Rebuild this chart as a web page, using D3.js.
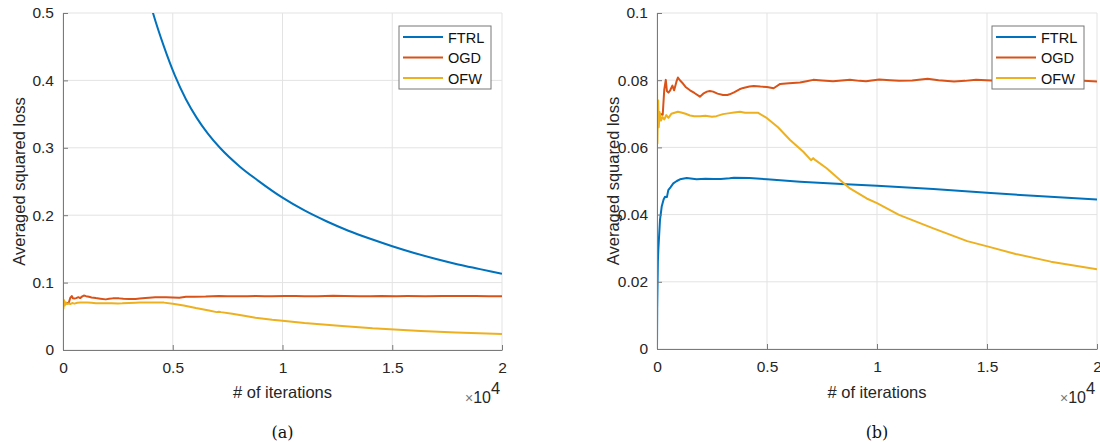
<!DOCTYPE html>
<html>
<head>
<meta charset="utf-8">
<script src="https://cdn.jsdelivr.net/npm/d3@7"></script>
<style>
  body { margin: 0; background: #fff; }
  svg { display: block; font-family: "Liberation Sans", Arial, sans-serif; }
  .tick text { fill: #262626; font-size: 15.5px; }
  .axis-title { fill: #262626; font-size: 16.5px; }
  .caption { fill: #111; font-family: "DejaVu Serif", "Liberation Serif", serif; font-size: 16px; }
</style>
</head>
<body>
<svg id="chart" width="1100" height="442"></svg>
<script>
// Series names and colours (MATLAB default order)
const seriesNames = ['FTRL', 'OGD', 'OFW'];
const seriesColors = ['#0072BD', '#D95319', '#EDB120'];

// x in iterations, y = averaged squared loss
// FTRL in panel (a): starts far above the axis, clipped at 0.5
const ftrlA = [[3800, 0.535], [4100, 0.500], [4600, 0.450], [5100, 0.407], [5600, 0.372],
  [6100, 0.344], [6600, 0.321], [7150, 0.300], [8060, 0.272], [8900, 0.251], [10000, 0.226],
  [11000, 0.207], [12000, 0.191], [13000, 0.177], [14000, 0.165], [15000, 0.154],
  [16000, 0.144], [17000, 0.135], [18000, 0.127], [19000, 0.120], [20000, 0.113]];

// FTRL in panel (b)
const ftrlB = [[0, 0.000], [10, 0.012], [40, 0.026], [60, 0.0295], [136, 0.0384], [214, 0.0424],
  [300, 0.0445], [364, 0.0453], [450, 0.0452], [514, 0.0473], [620, 0.0482], [741, 0.0493],
  [900, 0.0500], [1045, 0.0505], [1350, 0.0509], [1800, 0.0505], [2200, 0.0507], [2600, 0.0506],
  [2900, 0.0506], [3300, 0.0508], [3500, 0.0510], [4200, 0.0509], [5000, 0.0505], [6500, 0.0498],
  [8600, 0.0490], [10000, 0.0486], [12560, 0.0476], [15000, 0.0465], [17100, 0.0456],
  [20000, 0.0445]];

// OGD and OFW are the same runs in both panels
const ogd = [[0, 0.0702], [260, 0.0697], [330, 0.0772], [400, 0.0801], [450, 0.0768],
  [520, 0.0763], [600, 0.0770], [700, 0.0784], [780, 0.0770], [880, 0.0795], [950, 0.0808],
  [1050, 0.0799], [1180, 0.0790], [1300, 0.0780], [1500, 0.0770], [1700, 0.0762],
  [1950, 0.0751], [2100, 0.0760], [2270, 0.0766], [2400, 0.0768], [2550, 0.0766],
  [2750, 0.0760], [3000, 0.0756], [3200, 0.0756], [3300, 0.0758], [3500, 0.0764],
  [3750, 0.0773], [3920, 0.0777], [4200, 0.0781], [4400, 0.0783], [4700, 0.0781],
  [5000, 0.0780], [5300, 0.0776], [5600, 0.0789], [6000, 0.0791], [6500, 0.0793],
  [6800, 0.0797], [7100, 0.0801], [7500, 0.0799], [8000, 0.0797], [8400, 0.0799],
  [8770, 0.0801], [9200, 0.0798], [9500, 0.0797], [10100, 0.0802], [10600, 0.0800],
  [11000, 0.0798], [11600, 0.0799], [12300, 0.0804], [12800, 0.0800], [13500, 0.0796],
  [14000, 0.0798], [14500, 0.0801], [15200, 0.0799], [15700, 0.0800], [16500, 0.0799],
  [17300, 0.0801], [18000, 0.0800], [18800, 0.0800], [19400, 0.0798], [20000, 0.0796]];

const ofw = [[0, 0.0800], [20, 0.0612], [50, 0.0740], [80, 0.0660], [120, 0.0705],
  [180, 0.0680], [250, 0.0690], [330, 0.0683], [420, 0.0696], [520, 0.0688], [650, 0.0700],
  [800, 0.0703], [950, 0.0706], [1100, 0.0704], [1300, 0.0700], [1500, 0.0695],
  [1700, 0.0693], [1950, 0.0693], [2200, 0.0694], [2500, 0.0691], [2700, 0.0693],
  [3000, 0.0699], [3300, 0.0702], [3500, 0.0704], [3770, 0.0706], [4000, 0.0703],
  [4300, 0.0703], [4600, 0.0703], [5000, 0.0687], [5500, 0.0660], [6050, 0.0622],
  [6650, 0.0587], [7000, 0.0562], [7100, 0.0568], [7200, 0.0562], [7710, 0.0538],
  [8320, 0.0503], [8770, 0.0478], [9530, 0.0448], [10000, 0.0434], [11000, 0.0399],
  [12560, 0.0359], [14100, 0.0321], [15100, 0.0304], [16300, 0.0283], [17900, 0.0260],
  [20000, 0.0237]];

// Axis ticks
const xTicks = [0, 5000, 10000, 15000, 20000];
const yTicksA = [0, 0.1, 0.2, 0.3, 0.4, 0.5];
const yTicksB = [0, 0.02, 0.04, 0.06, 0.08, 0.1];

const svg = d3.select('#chart');

/**
 * Draw one MATLAB-style panel: grid, axes, three lines, legend, labels
 */
function drawPanel(p) {
  const x = d3.scaleLinear().domain([0, 20000]).range([p.left, p.right]);
  const y = d3.scaleLinear().domain(p.yDomain).range([p.bottom, p.top]);
  const g = svg.append('g');

  // grid
  g.append('g').selectAll('line.gx').data(xTicks).join('line')
    .attr('x1', d => x(d)).attr('x2', d => x(d))
    .attr('y1', p.top).attr('y2', p.bottom)
    .attr('stroke', '#e3e3e3').attr('stroke-width', 1);
  g.append('g').selectAll('line.gy').data(p.yTicks).join('line')
    .attr('x1', p.left).attr('x2', p.right)
    .attr('y1', d => y(d)).attr('y2', d => y(d))
    .attr('stroke', '#e3e3e3').attr('stroke-width', 1);

  // lines, clipped to the axes box
  const clipId = 'clip-' + p.id;
  svg.append('clipPath').attr('id', clipId).append('rect')
    .attr('x', p.left).attr('y', p.top)
    .attr('width', p.right - p.left).attr('height', p.bottom - p.top);

  const lineGen = d3.line().x(d => x(d[0])).y(d => y(d[1]));
  const smoothGen = d3.line().x(d => x(d[0])).y(d => y(d[1])).curve(d3.curveMonotoneX);
  const lines = g.append('g').attr('clip-path', `url(#${clipId})`);
  p.series.forEach((s, i) => {
    lines.append('path')
      .attr('d', (s === ftrlA ? smoothGen : lineGen)(s))
      .attr('fill', 'none')
      .attr('stroke', seriesColors[i])
      .attr('stroke-width', 2)
      .attr('stroke-linejoin', 'round');
  });

  // axes
  const xAxis = d3.axisBottom(x).tickValues(xTicks)
    .tickFormat(d => d3.format('~g')(d / 1e4)).tickSizeInner(-5).tickSizeOuter(0).tickPadding(12);
  const yAxis = d3.axisLeft(y).tickValues(p.yTicks)
    .tickFormat(d => d3.format('~g')(+d.toFixed(3))).tickSizeInner(-5).tickSizeOuter(0).tickPadding(9);

  const xg = g.append('g').attr('transform', `translate(0,${p.bottom})`).call(xAxis);
  const yg = g.append('g').attr('transform', `translate(${p.left},0)`).call(yAxis);
  [xg, yg].forEach(a => {
    a.select('.domain').attr('stroke', '#7a7a7a');
    a.selectAll('.tick line').attr('stroke', '#7a7a7a');
    a.attr('font-family', null).attr('font-size', null);
  });

  // axis titles
  g.append('text').attr('class', 'axis-title')
    .attr('x', (p.left + p.right) / 2).attr('y', 398)
    .attr('text-anchor', 'middle').text('# of iterations');
  g.append('text').attr('class', 'axis-title')
    .attr('transform', `translate(${p.left - 38},${(p.top + p.bottom) / 2}) rotate(-90)`)
    .attr('text-anchor', 'middle').text('Averaged squared loss');

  // x10^4 exponent label
  const ex = g.append('text').attr('class', 'axis-title')
    .attr('x', p.right - 11).attr('y', 403).attr('text-anchor', 'end');
  ex.append('tspan').attr('fill', '#777').attr('font-size', '14px').text('\u00d7');
  ex.append('tspan').attr('font-size', '16px').text('10');
  g.append('text').attr('class', 'axis-title')
    .attr('x', p.right - 11).attr('y', 394).attr('font-size', '11.5px').text('4');

  // legend
  const lg = g.append('g').attr('transform', `translate(${p.legendX},26)`);
  lg.append('rect').attr('width', 92).attr('height', 63)
    .attr('fill', '#fff').attr('stroke', '#777').attr('stroke-width', 1);
  seriesNames.forEach((name, i) => {
    const ry = 11 + i * 20.5;
    lg.append('line').attr('x1', 4).attr('x2', 44).attr('y1', ry).attr('y2', ry)
      .attr('stroke', seriesColors[i]).attr('stroke-width', 2);
    lg.append('text').attr('x', 49).attr('y', ry + 5.5)
      .attr('font-size', '14.5px').attr('fill', '#111').text(name);
  });

  // caption
  g.append('text').attr('class', 'caption')
    .attr('x', (p.left + p.right) / 2).attr('y', 438)
    .attr('text-anchor', 'middle').text(p.caption);
}

drawPanel({
  id: 'a', left: 63, right: 502, top: 13, bottom: 350,
  yDomain: [0, 0.5], yTicks: yTicksA,
  series: [ftrlA, ogd, ofw], legendX: 399, caption: '(a)'
});

drawPanel({
  id: 'b', left: 657, right: 1097, top: 13, bottom: 349,
  yDomain: [0, 0.1], yTicks: yTicksB,
  series: [ftrlB, ogd, ofw], legendX: 992, caption: '(b)'
});
</script>
</body>
</html>
